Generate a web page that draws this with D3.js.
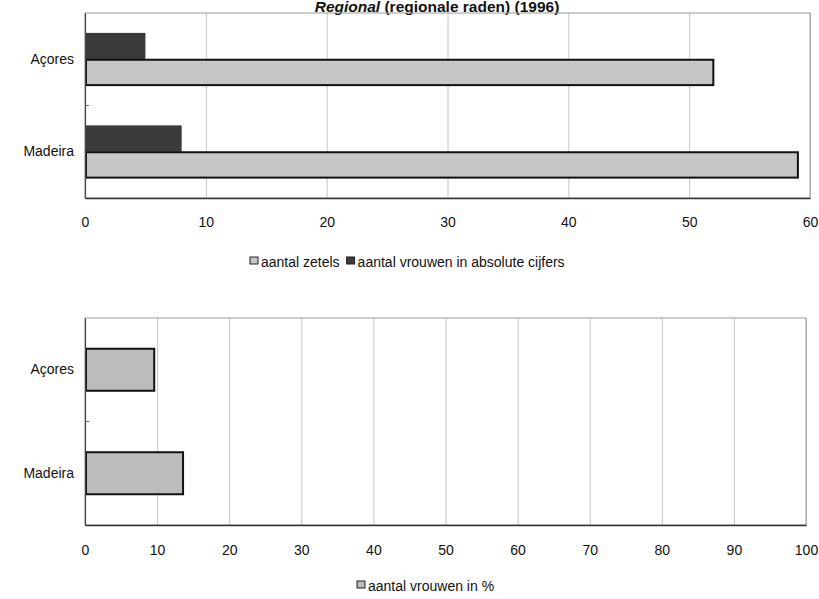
<!DOCTYPE html>
<html><head><meta charset="utf-8">
<script src="https://cdn.jsdelivr.net/npm/d3@7"></script>
<style>
body{margin:0;background:#fff;}
svg{display:block;font-family:"Liberation Sans",Arial,sans-serif;}
</style></head>
<body><svg id="c" width="819" height="599"></svg>
<script>
const categories = ["Açores", "Madeira"];
const zetels = [52, 59];
const vrouwenAbs = [5, 8];
const vrouwenPct = [9.6, 13.6];
const ticksTop = [0, 10, 20, 30, 40, 50, 60];
const ticksBottom = [0, 10, 20, 30, 40, 50, 60, 70, 80, 90, 100];
const seriesTop = ["aantal vrouwen in absolute cijfers", "aantal zetels"];
const seriesBottom = ["aantal vrouwen in %"];

const svg = d3.select("#c");
const FONT = "\"Liberation Sans\",Arial,sans-serif";
const FS = 14;
const LIGHT = "#c6c6c6", LIGHT2 = "#bcbcbc", DARK = "#3b3b3b";

// title
const title = svg.append("text").attr("x", 437).attr("y", 12).attr("text-anchor", "middle")
  .attr("font-size", 15.5).attr("font-weight", "bold").attr("fill", "#111");
title.append("tspan").attr("font-style", "italic").text("Regional");
title.append("tspan").text(" (regionale raden) (1996)");

function panel(cfg) {
  const g = svg.append("g");
  const x = d3.scaleLinear().domain([0, cfg.max]).range([cfg.x0, cfg.x1]);
  const y = d3.scaleBand().domain(categories).range([cfg.y0, cfg.y1])
    .paddingInner(cfg.padIn).paddingOuter(cfg.padOut);
  g.append("g").attr("transform", `translate(0,${cfg.y1})`)
    .call(d3.axisBottom(x).tickValues(cfg.ticks).tickSize(-(cfg.y1 - cfg.y0)).tickFormat(""))
    .call(s => s.select(".domain").remove())
    .call(s => s.selectAll("line").attr("stroke", "#c4c4c4"));
  g.append("rect").attr("x", cfg.x0).attr("y", cfg.y0).attr("width", cfg.x1 - cfg.x0)
    .attr("height", cfg.y1 - cfg.y0).attr("fill", "none").attr("stroke", "#9a9a9a");
  cfg.draw(g, x, y);
  const xa = g.append("g").attr("transform", `translate(0,${cfg.y1})`)
    .call(d3.axisBottom(x).tickValues(cfg.ticks).tickSize(0).tickPadding(cfg.tickPad));
  xa.select(".domain").attr("stroke", "#333").attr("stroke-width", 1.5);
  xa.selectAll("text").attr("font-size", FS).attr("fill", "#111").attr("font-family", FONT);
  const ya = g.append("g").attr("transform", `translate(${cfg.x0},0)`)
    .call(d3.axisLeft(y).tickSize(0).tickPadding(11));
  ya.select(".domain").attr("stroke", "#444").attr("stroke-width", 1.2);
  ya.selectAll("text").attr("font-size", FS).attr("fill", "#111").attr("font-family", FONT);
  const step = y.step();
  g.append("line").attr("x1", cfg.x0).attr("x2", cfg.x0 + 4)
    .attr("y1", cfg.y0 + step).attr("y2", cfg.y0 + step).attr("stroke", "#666");
  return {x, y};
}

panel({
  max: 60, x0: 85, x1: 810, y0: 13, y1: 198, padIn: 0.43, padOut: 0.215, ticks: ticksTop, tickPad: 19,
  draw: (g, x, y) => {
    const sub = d3.scaleBand().domain(seriesTop).range([0, y.bandwidth()]);
    categories.forEach((c, i) => {
      [vrouwenAbs[i], zetels[i]].forEach((v, j) => {
        const dark = j === 0;
        g.append("rect").attr("x", x(0) + (dark ? 0 : 1)).attr("y", y(c) + sub(seriesTop[j]) + (dark ? 0 : 0.5))
          .attr("width", x(v) - x(0) - (dark ? 0 : 1)).attr("height", sub.bandwidth() - (dark ? 0 : 1))
          .attr("fill", dark ? DARK : LIGHT)
          .attr("stroke", dark ? "none" : "#111").attr("stroke-width", dark ? 0 : 2);
      });
    });
  }
});

panel({
  max: 100, x0: 85, x1: 806, y0: 318, y1: 525, padIn: 0.594, padOut: 0.297, ticks: ticksBottom, tickPad: 20,
  draw: (g, x, y) => {
    categories.forEach((c, i) => {
      g.append("rect").attr("x", x(0) + 1).attr("y", y(c)).attr("width", x(vrouwenPct[i]) - x(0) - 1)
        .attr("height", y.bandwidth()).attr("fill", LIGHT2).attr("stroke", "#111").attr("stroke-width", 2);
    });
  }
});

function legend(items, xStart, yText) {
  let cx = xStart;
  items.forEach(it => {
    svg.append("rect").attr("x", cx).attr("y", yText - 10).attr("width", 8).attr("height", 7)
      .attr("fill", it.fill).attr("stroke", "#222").attr("stroke-width", 1);
    const t = svg.append("text").attr("x", cx + 11).attr("y", yText).attr("font-size", FS)
      .attr("fill", "#111").text(it.label);
    cx += 11 + t.node().getComputedTextLength() + 7;
  });
}
legend([{label: seriesTop[1], fill: LIGHT}, {label: seriesTop[0], fill: DARK}], 250, 267);
legend([{label: seriesBottom[0], fill: LIGHT2}], 357, 591);
</script></body></html>
